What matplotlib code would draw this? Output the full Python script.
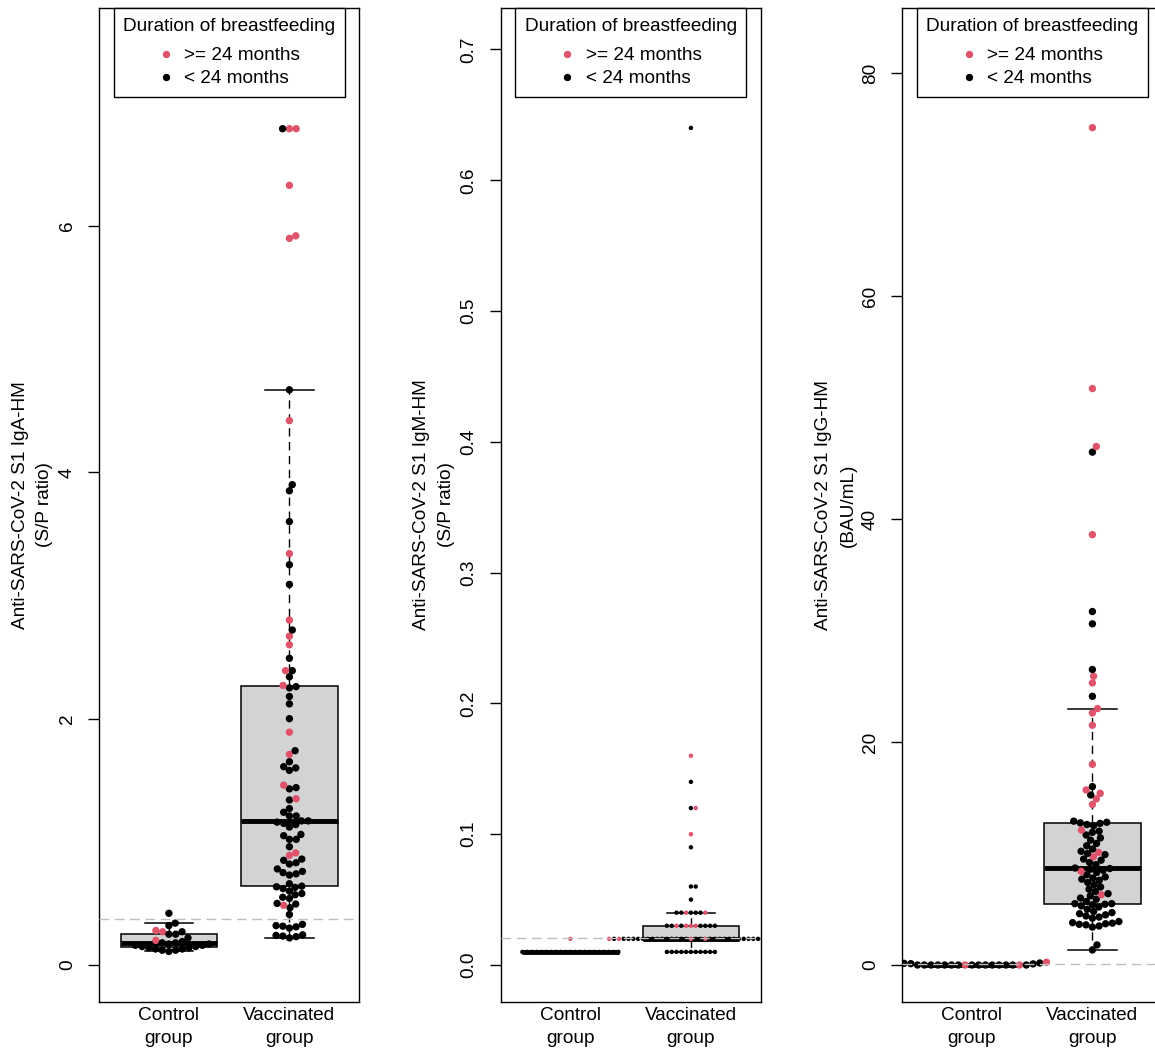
import numpy as np
import matplotlib
matplotlib.use('Agg')
import matplotlib.pyplot as plt
from matplotlib.lines import Line2D

plt.rcParams['font.family'] = ['Liberation Sans', 'DejaVu Sans']

FS = 13.7
PINK = '#DF536B'
BOX_GREY = '#D3D3D3'
CUT_GREY = '#BEBEBE'

group_labels = ['Control\ngroup', 'Vaccinated\ngroup']
legend_title = 'Duration of breastfeeding'
legend_labels = ['>= 24 months', '< 24 months']

# ---- IgA (S/P ratio); *_long: 1 = breastfeeding >= 24 months
iga_ctrl = [0.42, 0.34, 0.32, 0.28, 0.27, 0.27, 0.25, 0.25, 0.22, 0.20,
            0.19, 0.18, 0.18, 0.17, 0.17, 0.16, 0.16, 0.15, 0.15, 0.14,
            0.14, 0.13, 0.13, 0.12, 0.12, 0.11]
iga_ctrl_long = [0, 0, 0, 1, 1, 0, 0, 0, 0, 1,
                 0, 0, 0, 0, 0, 0, 0, 0, 0, 0,
                 0, 0, 0, 0, 0, 0]
iga_vacc = [0.22, 0.23, 0.235, 0.24, 0.245, 0.30, 0.31, 0.315, 0.32, 0.33,
            0.41, 0.465, 0.485, 0.495, 0.50, 0.54, 0.55, 0.57, 0.58, 0.60,
            0.62, 0.63,
            0.635, 0.64, 0.66, 0.73, 0.74, 0.75, 0.76, 0.78, 0.82, 0.83,
            0.85, 0.86, 0.89, 0.91, 0.96, 1.02, 1.02, 1.05, 1.06, 1.12,
            1.14, 1.15, 1.16,
            1.17, 1.17, 1.21, 1.21, 1.24, 1.27, 1.34, 1.35, 1.43, 1.44,
            1.46, 1.58, 1.60, 1.61, 1.65, 1.71, 1.74, 1.89, 2.00, 2.12,
            2.18, 2.25,
            2.26, 2.27, 2.34, 2.39, 2.39, 2.49, 2.60, 2.67, 2.72, 2.80,
            3.09, 3.25, 3.34, 3.60, 3.85, 3.90, 4.42, 4.67, 5.90, 5.92,
            6.33, 6.79, 6.79, 6.79]
iga_vacc_long = [0, 0, 0, 0, 0, 0, 0, 0, 0, 0,
                 0, 0, 1, 0, 0, 0, 0, 0, 0, 0,
                 0, 0,
                 0, 0, 0, 0, 0, 0, 0, 0, 0, 0,
                 0, 0, 1, 1, 0, 0, 0, 0, 0, 0,
                 0, 0, 0,
                 0, 0, 0, 0, 0, 0, 0, 1, 0, 0,
                 1, 0, 0, 0, 0, 1, 0, 1, 0, 0,
                 0, 0,
                 0, 1, 0, 0, 1, 0, 1, 1, 0, 1,
                 0, 0, 1, 0, 0, 0, 1, 0, 1, 1,
                 1, 1, 1, 0]

# ---- IgM (S/P ratio)
igm_ctrl = [0.01, 0.01, 0.01, 0.01, 0.01, 0.01, 0.01, 0.01, 0.01, 0.01,
            0.01, 0.01, 0.01, 0.01, 0.01, 0.01, 0.01, 0.01, 0.01, 0.01,
            0.01, 0.02]
igm_ctrl_long = [0, 0, 0, 0, 0, 0, 0, 0, 0, 0,
                 0, 0, 0, 0, 0, 0, 0, 0, 0, 0,
                 0, 1]
igm_vacc = [0.01, 0.01, 0.01, 0.01, 0.01, 0.01, 0.01, 0.01, 0.01, 0.01,
            0.01,
            0.02, 0.02, 0.02, 0.02, 0.02, 0.02, 0.02, 0.02, 0.02, 0.02,
            0.02, 0.02, 0.02, 0.02, 0.02, 0.02, 0.02, 0.02, 0.02, 0.02,
            0.02, 0.02, 0.02, 0.02, 0.02, 0.02, 0.02, 0.02, 0.02, 0.02,
            0.02, 0.02, 0.02, 0.02, 0.02,
            0.03, 0.03, 0.03, 0.03, 0.03, 0.03, 0.03, 0.03, 0.03, 0.03,
            0.03,
            0.04, 0.04, 0.04, 0.04, 0.04, 0.04, 0.04,
            0.05, 0.06, 0.06, 0.09, 0.10, 0.12, 0.12, 0.14, 0.16, 0.64]
igm_vacc_long = [0, 0, 0, 0, 0, 0, 0, 0, 0, 0,
                 0,
                 1, 0, 0, 0, 0, 1, 0, 0, 0, 0,
                 0, 0, 0, 0, 0, 0, 0, 0, 0, 0,
                 0, 0, 0, 0, 0, 0, 0, 0, 0, 0,
                 1, 0, 0, 0, 1,
                 1, 1, 1, 0, 0, 0, 1, 0, 0, 0,
                 0,
                 0, 0, 1, 0, 0, 1, 0,
                 0, 0, 0, 0, 1, 0, 1, 0, 1, 0]

# ---- IgG (BAU/mL)
igg_ctrl = [0.0, 0.0, 0.0, 0.0, 0.0, 0.0, 0.0, 0.0, 0.0, 0.0,
            0.0, 0.0, 0.0, 0.0, 0.0, 0.0, 0.0,
            0.10, 0.12, 0.15, 0.18, 0.20, 0.25]
igg_ctrl_long = [0, 0, 1, 0, 0, 0, 0, 0, 0, 0,
                 0, 0, 0, 1, 0, 0, 0,
                 0, 0, 0, 0, 0, 1]
igg_vacc = [1.35, 1.8, 3.4, 3.5, 3.6, 3.65, 3.7, 3.75, 3.8, 3.9,
            4.2, 4.3, 4.4, 4.5, 4.6, 4.7, 4.8, 5.0, 5.2, 5.3,
            5.4, 5.45,
            5.5, 5.5, 5.7, 5.9, 6.0, 6.2, 6.3, 6.4, 6.6, 6.8,
            7.0, 7.2, 7.4, 7.6, 7.7, 7.8, 7.9, 8.1, 8.3, 8.4,
            8.5, 8.6,
            8.65, 8.7, 9.0, 9.2, 9.4, 9.5, 9.7, 9.9, 10.0, 10.1,
            10.2, 10.4, 10.7, 10.9, 11.2, 11.4, 11.66, 11.9, 12.0, 12.1,
            12.5, 12.6,
            12.7, 12.75, 12.8, 12.9, 14.4, 14.9, 15.25, 15.4, 15.7, 16.0,
            18.0, 21.5, 22.6, 23.0, 24.1, 25.3, 25.9, 26.5, 30.6, 31.7,
            38.6, 46.0, 46.5, 51.7, 75.1]
igg_vacc_long = [0, 0, 0, 0, 0, 0, 0, 0, 0, 0,
                 0, 0, 0, 0, 0, 0, 0, 0, 0, 0,
                 0, 0,
                 0, 0, 0, 0, 0, 0, 1, 0, 0, 0,
                 0, 0, 0, 0, 0, 0, 0, 0, 0, 1,
                 0, 0,
                 0, 0, 0, 0, 0, 0, 1, 0, 0, 1,
                 0, 0, 0, 0, 0, 0, 0, 0, 0, 1,
                 0, 0,
                 0, 0, 0, 0, 1, 1, 0, 1, 1, 0,
                 1, 1, 1, 1, 0, 1, 1, 0, 0, 0,
                 1, 0, 1, 1, 1]

# cut-off levels (dashed grey lines)
cutoffs = [0.371, 0.021, 0.1]


def swarm(ax, pos, vals, d_px):
    """beeswarm 'swarm' placement in pixel space, returns x in data units"""
    vals = np.asarray(vals, float)
    pts = ax.transData.transform(np.column_stack([np.full(len(vals), pos), vals]))
    y = pts[:, 1] / d_px
    order = np.argsort(y, kind='stable')
    ys = y[order]
    xs = np.zeros(len(ys))
    for i in range(1, len(ys)):
        near = (ys[i] - ys[:i]) < 1
        if not near.any():
            continue
        px = xs[:i][near]
        py = ys[:i][near]
        off = np.sqrt(1 - (ys[i] - py) ** 2)
        cand = np.concatenate([[0.0], px + off, px - off])
        dist = (cand[:, None] - px[None, :]) ** 2 + (ys[i] - py[None, :]) ** 2
        cand[(dist < 0.999).any(axis=1)] = np.inf
        xs[i] = cand[np.argmin(np.abs(cand))]
    out = np.empty(len(ys))
    out[order] = xs * d_px
    unit = (ax.transData.transform([(pos + 1, 0)])[0, 0]
            - ax.transData.transform([(pos, 0)])[0, 0])
    return pos + out / unit


panels = [
    dict(data=[(iga_ctrl, iga_ctrl_long), (iga_vacc, iga_vacc_long)],
         ylabel='Anti-SARS-CoV-2 S1 IgA-HM\n(S/P ratio)',
         ylim=(-0.3004, 7.770), yticks=[0, 2, 4, 6], yfmt='{:g}',
         dot=5.3, spacing=6.8),
    dict(data=[(igm_ctrl, igm_ctrl_long), (igm_vacc, igm_vacc_long)],
         ylabel='Anti-SARS-CoV-2 S1 IgM-HM\n(S/P ratio)',
         ylim=(-0.02829, 0.7317), yticks=[0, 0.1, 0.2, 0.3, 0.4, 0.5, 0.6, 0.7],
         yfmt='{:.1f}', dot=3.2, spacing=4.8),
    dict(data=[(igg_ctrl, igg_ctrl_long), (igg_vacc, igg_vacc_long)],
         ylabel='Anti-SARS-CoV-2 S1 IgG-HM\n(BAU/mL)',
         ylim=(-3.318, 85.83), yticks=[0, 20, 40, 60, 80], yfmt='{:g}',
         dot=5.3, spacing=6.8),
]

W, H = 1155, 1050
fig = plt.figure(figsize=(W / 100, H / 100), dpi=100)
lefts = [99, 500.5, 902]

for k, p in enumerate(panels):
    ax = fig.add_axes([lefts[k] / W, 48 / H, 260.3 / W, 994 / H])
    values = [np.asarray(v, float) for v, _ in p['data']]
    ax.boxplot(values, positions=[1, 2], widths=0.8, whis=1.5, showfliers=False,
               patch_artist=True, capwidths=0.4, zorder=2,
               boxprops=dict(facecolor=BOX_GREY, edgecolor='black', linewidth=1.1),
               medianprops=dict(color='black', linewidth=3.5, solid_capstyle='butt'),
               whiskerprops=dict(color='black', linewidth=1.0, linestyle=(0, (6, 4))),
               capprops=dict(color='black', linewidth=1.1))
    ax.set_xlim(0.42, 2.58)
    ax.set_ylim(*p['ylim'])

    for pos, (v, lg) in zip([1, 2], p['data']):
        xs = swarm(ax, pos, v, p['spacing'])
        cols = np.where(np.asarray(lg) == 1, PINK, 'black')
        ax.scatter(xs, v, s=p['dot'] ** 2, c=cols, linewidths=0, zorder=3)

    ax.axhline(cutoffs[k], color=CUT_GREY, lw=1.0, ls=(0, (7, 4)), zorder=4)

    ax.set_xticks([1, 2])
    ax.set_xticklabels(group_labels, fontsize=FS, linespacing=1.45)
    ax.tick_params(axis='x', length=0, pad=3.5)
    ax.set_yticks(p['yticks'])
    ax.set_yticklabels([p['yfmt'].format(t) for t in p['yticks']], fontsize=FS)
    ax.tick_params(axis='y', length=8, width=1.0, pad=8.5)
    for t in ax.get_yticklabels():
        t.set_rotation(90)
        t.set_va('center')
    for s in ax.spines.values():
        s.set_linewidth(1.0)

    ax.text(-0.2555, 0.5, p['ylabel'], transform=ax.transAxes, rotation=90,
            ha='center', va='center', fontsize=FS, linespacing=1.6,
            multialignment='center')

    handles = [Line2D([], [], marker='o', ls='', color=PINK, ms=5.3, mew=0),
               Line2D([], [], marker='o', ls='', color='black', ms=5.3, mew=0)]
    leg = ax.legend(handles, legend_labels, title=legend_title, loc='upper center',
                    bbox_to_anchor=(0.5, 1.0), borderaxespad=0, fancybox=False,
                    edgecolor='black', framealpha=1, fontsize=FS,
                    title_fontsize=FS, handlelength=0.8, handletextpad=0.55,
                    labelspacing=0.3, borderpad=0.5, alignment='center')
    leg._legend_box.sep = 9.0  # gap between title and entries
    leg.get_frame().set_linewidth(1.0)

fig.savefig('out.png', dpi=100)
